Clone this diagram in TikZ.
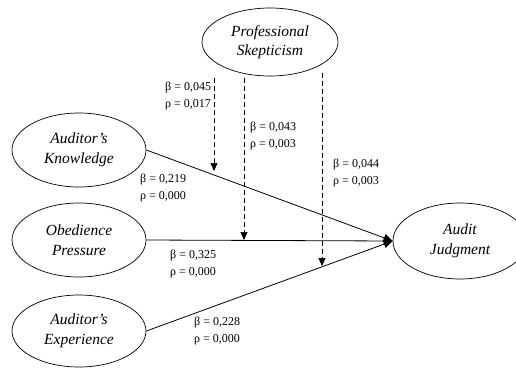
\documentclass[tikz,border=0pt]{standalone}
\usepackage{fontspec}
\setmainfont{Liberation Serif}
\usetikzlibrary{shapes.geometric,arrows.meta}
\begin{document}
\begin{tikzpicture}[x=1pt,y=-1pt,
  var/.style={ellipse,draw,line width=0.7pt,inner sep=0pt,align=center,
    font=\itshape\fontsize{15.5}{19.5}\selectfont},
  lbl/.style={anchor=west,align=left,inner sep=0pt,font=\fontsize{12}{16.5}\selectfont},
  path/.style={line width=0.8pt,-{Triangle[length=9pt,width=8pt]}},
  mod/.style={line width=0.7pt,dash pattern=on 5pt off 3pt,-{Triangle[length=8pt,width=7pt]}}]
\useasboundingbox (0,0) rectangle (516,367);
\node[var,minimum width=136pt,minimum height=68pt] (ps) at (270,42) {Professional\\Skepticism};
\node[var,minimum width=134pt,minimum height=74pt] (ak) at (79,150) {Auditor's\\Knowledge};
\node[var,minimum width=134pt,minimum height=74pt] (op) at (79,240) {Obedience\\Pressure};
\node[var,minimum width=134pt,minimum height=72pt] (ae) at (79,331) {Auditor's\\Experience};
\node[var,minimum width=134pt,minimum height=76pt] (aj) at (460,241) {Audit\\Judgment};
\draw[path] (ak.east) -- (aj.west);
\draw[path] (op.east) -- (aj.west);
\draw[path] (ae.east) -- (aj.west);
\coordinate (d1s) at (214,78);
\coordinate (d1e) at (214,171);
\coordinate (d2s) at (244,78);
\coordinate (d2e) at (244,240);
\coordinate (d3s) at (322,73);
\coordinate (d3e) at (322,266);
\draw[mod] (d1s) -- (d1e);
\draw[mod] (d2s) -- (d2e);
\draw[mod] (d3s) -- (d3e);
\node[lbl] (l1) at (165,96) {β = 0,045\\ρ = 0,017};
\node[lbl] (l2) at (250,136) {β = 0,043\\ρ = 0,003};
\node[lbl] (l3) at (333,173) {β = 0,044\\ρ = 0,003};
\node[lbl] (l4) at (140,188) {β = 0,219\\ρ = 0,000};
\node[lbl] (l5) at (170,264) {β = 0,325\\ρ = 0,000};
\node[lbl] (l6) at (194,331) {β = 0,228\\ρ = 0,000};
\end{tikzpicture}
\end{document}
